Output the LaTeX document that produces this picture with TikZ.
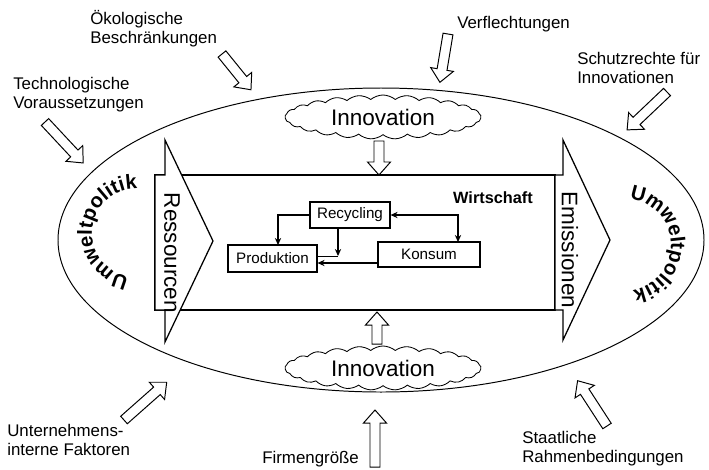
\documentclass[tikz,border=0pt]{standalone}
\usepackage{fontspec}
\setmainfont{Liberation Sans}
\usetikzlibrary{arrows.meta, calc, positioning, shapes.symbols, decorations.text}

\newcommand{\umweltschrift}{\fontsize{14.5}{16}\selectfont\bfseries}

\begin{document}
\begin{tikzpicture}[
  x=0.025cm, y=0.025cm,
  linie/.style={line width=0.7pt},
  kastenlinie/.style={line width=0.9pt},
  kasten/.style={rectangle, draw, line width=0.8pt, inner sep=0pt, font=\fontsize{10.8}{12}\selectfont},
  pfeil/.style={-{Stealth[length=5pt,width=4.5pt]}, line width=0.8pt},
  beschriftung/.style={font=\fontsize{12}{13.3}\selectfont, align=left, inner sep=0pt, anchor=base west},
  wolke/.style={cloud, cloud puffs=25, cloud puff arc=80, cloud ignores aspect, draw, fill=white, line width=0.6pt, minimum width=4.9cm, minimum height=1.1cm, font=\fontsize{16}{18}\selectfont},
  seitentext/.style={rotate=-90, font=\fontsize{16}{18}\selectfont, inner sep=0pt},
  pics/hohlpfeil/.style={code={
    \draw[linie, fill=white] (0,-5) -- (#1-13,-5) -- (#1-13,-11.5) -- (#1,0) -- (#1-13,11.5) -- (#1-13,5) -- (0,5) -- cycle;}}
]
  \useasboundingbox (0,0) rectangle (709,-469);

  % Umweltpolitik (outer ellipse)
  \draw[linie] (381,-240) ellipse [x radius=323, y radius=152];
  \path[decorate, decoration={text along path, text align=center, text={|\umweltschrift|Umweltpolitik}}]
    (136,-233) ++(284.5:44) arc[start angle=284.5, end angle=64.5, radius=44];
  \path[decorate, decoration={text along path, text align=center, text={|\umweltschrift|Umweltpolitik}}]
    (625,-245) ++(112:46) arc[start angle=112, end angle=-108, radius=46];

  % Wirtschaft
  \node[draw, kastenlinie, minimum width=10cm, minimum height=3.375cm, inner sep=0pt] (wirtschaft) at (355,-242.5) {};
  \node[font=\fontsize{11.6}{13}\selectfont\bfseries, anchor=base] (wirtschaftlabel) at (493,-203) {Wirtschaft};

  % Ressourcen / Emissionen
  \draw[kastenlinie, fill=white] (155,-175) -- (165,-175) -- (165,-140) -- (213,-241) -- (165,-342) -- (165,-310) -- (155,-310) -- cycle;
  \draw[kastenlinie, fill=white] (555,-175) -- (563,-175) -- (563,-140) -- (610,-240) -- (563,-340) -- (563,-310) -- (555,-310) -- cycle;
  \node[seitentext] (ressourcen) at (172,-253) {Ressourcen};
  \node[seitentext] (emissionen) at (570,-250) {Emissionen};

  % Kreislauf
  \node[kasten, minimum width=2cm, minimum height=0.65cm] (recycling) at (350,-215) {Recycling};
  \node[kasten, minimum width=2.225cm, minimum height=0.675cm] (produktion) at (272.5,-258.5) {Produktion};
  \node[kasten, minimum width=2.55cm, minimum height=0.625cm] (konsum) at (429,-254.5) {Konsum};
  \coordinate (knick) at (338,-256);
  \coordinate (prodlinks) at (278,-245);
  \coordinate (konsrechts) at (458,-242);
  \coordinate (unten) at (0,-263);

  \draw[pfeil] (recycling.west) -| (prodlinks);
  \draw[pfeil] (recycling.south -| knick) -- (knick);
  \draw[linie] (produktion.east |- knick) -- (knick);
  \draw[pfeil] (konsum.west |- unten) -- (produktion.east |- unten);
  \draw[pfeil, {Stealth[length=5pt,width=4.5pt]}-{Stealth[length=5pt,width=4.5pt]}] (recycling.east) -| (konsrechts);

  % Innovation
  \node[wolke] (innooben) at (383,-117) {Innovation};
  \node[wolke] (innounten) at (383,-368) {Innovation};
  \pic[rotate=-90] at (379,-141) {hohlpfeil=34};
  \pic[rotate=90] at (377,-344) {hohlpfeil=32};

  % Einflussfaktoren
  \node[beschriftung] (oekologie) at (90,-43) {Ökologische\\Beschränkungen};
  \node[beschriftung] (technologie) at (13,-108) {Technologische\\Voraussetzungen};
  \node[beschriftung] (verflechtung) at (457,-28) {Verflechtungen};
  \node[beschriftung] (schutzrechte) at (577,-83) {Schutzrechte für\\Innovationen};
  \node[beschriftung] (intern) at (7,-455) {Unternehmens-\\interne Faktoren};
  \node[beschriftung] (groesse) at (262,-463) {Firmengröße};
  \node[beschriftung] (staat) at (522,-462) {Staatliche\\Rahmenbedingungen};

  \pic[rotate=-51] at (222,-54) {hohlpfeil=46};
  \pic[rotate=-47] at (45,-122) {hohlpfeil=56};
  \pic[rotate=-99.5] at (448,-34) {hohlpfeil=49};
  \pic[rotate=-136.5] at (667,-92) {hohlpfeil=55};
  \pic[rotate=41.5] at (124,-420) {hohlpfeil=57};
  \pic[rotate=90] at (375,-467) {hohlpfeil=57};
  \pic[rotate=123] at (607,-426) {hohlpfeil=54};
\end{tikzpicture}
\end{document}
